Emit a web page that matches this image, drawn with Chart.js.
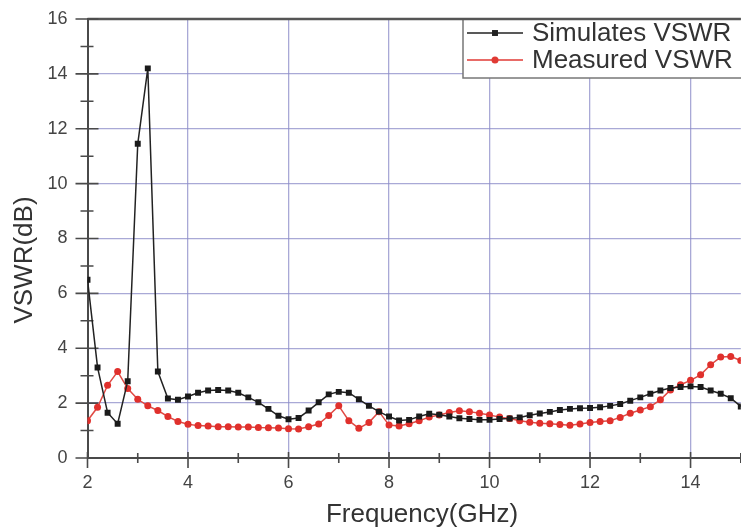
<!DOCTYPE html>
<html>
<head>
<meta charset="utf-8">
<script src="https://cdn.jsdelivr.net/npm/chart.js@4"></script>
<style>
  html, body { margin: 0; padding: 0; background: #fff; overflow: hidden; }
  #wrap { width: 745px; height: 531px; }
</style>
</head>
<body>
<div id="wrap"><canvas id="vswrChart"></canvas></div>
<script>
// frequency points (GHz), 0.2 GHz apart
const freqGHz = [
    2.0, 2.2, 2.4, 2.6, 2.8, 3.0, 3.2, 3.4, 3.6, 3.8,
    4.0, 4.2, 4.4, 4.6, 4.8, 5.0, 5.2, 5.4, 5.6, 5.8,
    6.0, 6.2, 6.4, 6.6, 6.8, 7.0, 7.2, 7.4, 7.6, 7.8,
    8.0, 8.2, 8.4, 8.6, 8.8, 9.0, 9.2, 9.4, 9.6, 9.8,
    10.0, 10.2, 10.4, 10.6, 10.8, 11.0, 11.2, 11.4, 11.6, 11.8,
    12.0, 12.2, 12.4, 12.6, 12.8, 13.0, 13.2, 13.4, 13.6, 13.8,
    14.0, 14.2, 14.4, 14.6, 14.8, 15.0
];
const simulatedVswr = [
    6.5, 3.3, 1.65, 1.25, 2.8, 11.45, 14.2, 3.15, 2.17, 2.12,
    2.24, 2.38, 2.46, 2.48, 2.46, 2.38, 2.21, 2.03, 1.79, 1.54,
    1.41, 1.46, 1.73, 2.03, 2.32, 2.41, 2.38, 2.14, 1.90, 1.69,
    1.51, 1.37, 1.39, 1.51, 1.61, 1.58, 1.51, 1.45, 1.42, 1.39,
    1.39, 1.42, 1.44, 1.48, 1.56, 1.62, 1.68, 1.75, 1.79, 1.81,
    1.82, 1.85, 1.90, 1.97, 2.09, 2.21, 2.34, 2.46, 2.55, 2.59,
    2.61, 2.59, 2.46, 2.34, 2.18, 1.88
];
const measuredVswr = [
    1.36, 1.85, 2.65, 3.15, 2.53, 2.14, 1.90, 1.73, 1.51, 1.33,
    1.23, 1.18, 1.17, 1.14, 1.14, 1.13, 1.13, 1.11, 1.10, 1.09,
    1.07, 1.06, 1.14, 1.24, 1.55, 1.90, 1.36, 1.08, 1.29, 1.69,
    1.20, 1.17, 1.25, 1.36, 1.49, 1.57, 1.66, 1.72, 1.69, 1.63,
    1.57, 1.49, 1.44, 1.36, 1.30, 1.27, 1.25, 1.22, 1.19, 1.24,
    1.29, 1.33, 1.36, 1.48, 1.63, 1.75, 1.87, 2.12, 2.48, 2.67,
    2.83, 3.03, 3.40, 3.68, 3.70, 3.55
];
const seriesNames = ['Simulates VSWR', 'Measured VSWR'];
const xTicks = [2, 4, 6, 8, 10, 12, 14];
const yTicks = [0, 2, 4, 6, 8, 10, 12, 14, 16];
const xTitle = 'Frequency(GHz)';
const yTitle = 'VSWR(dB)';

Chart.defaults.font.family = '"Liberation Sans", Arial, sans-serif';

const gridColor = 'rgba(140, 140, 200, 0.75)';
const axisColor = '#4a4a4a';

// frame, crossing tick marks, legend box and axis titles
const framePlugin = {
    id: 'frame',
    beforeDatasetsDraw(chart) {
        const { ctx, chartArea: a, scales: { x, y } } = chart;
        ctx.save();

        // legend box
        const lx = 463, ly = a.top, lh = 59;
        ctx.fillStyle = '#fff';
        ctx.fillRect(lx, ly, a.right - lx + 5, lh);
        ctx.strokeStyle = '#777';
        ctx.lineWidth = 1.5;
        ctx.strokeRect(lx, ly, a.right - lx + 5, lh);

        const rows = [
            { y: a.top + 14, color: '#222', style: 'rect', r: 4.2, name: seriesNames[0] },
            { y: a.top + 41, color: '#e03a34', style: 'circle', r: 3.5, name: seriesNames[1] }
        ];
        rows.forEach(row => {
            ctx.beginPath();
            ctx.strokeStyle = row.color;
            ctx.lineWidth = 1.5;
            ctx.moveTo(467, row.y);
            ctx.lineTo(523, row.y);
            ctx.stroke();
            ctx.fillStyle = row.color;
            Chart.helpers.drawPoint(ctx, { pointStyle: row.style, radius: row.r, borderWidth: 0 }, 495, row.y);
            ctx.fillStyle = '#333';
            ctx.font = '26px "Liberation Sans", Arial, sans-serif';
            ctx.textBaseline = 'middle';
            ctx.textAlign = 'left';
            ctx.fillText(row.name, 532, row.y + 1);
        });

        // top frame line
        ctx.beginPath();
        ctx.strokeStyle = '#555';
        ctx.lineWidth = 2.5;
        ctx.moveTo(a.left, a.top);
        ctx.lineTo(a.right, a.top);
        ctx.stroke();

        // tick marks crossing the axes (major + minor)
        ctx.beginPath();
        ctx.strokeStyle = axisColor;
        ctx.lineWidth = 1.6;
        for (let v = 2; v <= 15; v++) {
            const px = x.getPixelForValue(v);
            const major = v % 2 === 0;
            ctx.moveTo(px, a.bottom - (major ? 6 : 5));
            ctx.lineTo(px, a.bottom + (major ? 10 : 5));
        }
        for (let v = 0; v <= 16; v++) {
            const py = y.getPixelForValue(v);
            const major = v % 2 === 0;
            ctx.moveTo(a.left - (major ? 12 : 7), py);
            ctx.lineTo(a.left + (major ? 11 : 6), py);
        }
        ctx.stroke();

        // axis titles
        ctx.fillStyle = '#333';
        ctx.font = '26px "Liberation Sans", Arial, sans-serif';
        ctx.textAlign = 'center';
        ctx.textBaseline = 'middle';
        ctx.fillText(xTitle, 422, 515);
        ctx.translate(25, 260);
        ctx.rotate(-Math.PI / 2);
        ctx.fillText(yTitle, 0, 0);
        ctx.restore();
    }
};

const ctx = document.getElementById('vswrChart').getContext('2d');
new Chart(ctx, {
    type: 'line',
    data: {
        datasets: [{
            label: seriesNames[0],
            data: freqGHz.map((f, i) => ({ x: f, y: simulatedVswr[i] })),
            borderColor: '#222',
            backgroundColor: '#1a1a1a',
            borderWidth: 1.5,
            pointStyle: 'rect',
            pointRadius: 4.2,
            pointBorderWidth: 0,
            tension: 0
        }, {
            label: seriesNames[1],
            data: freqGHz.map((f, i) => ({ x: f, y: measuredVswr[i] })),
            borderColor: '#e04a44',
            backgroundColor: '#e0302c',
            borderWidth: 1.5,
            pointStyle: 'circle',
            pointRadius: 3.5,
            pointBorderWidth: 0,
            tension: 0
        }]
    },
    options: {
        responsive: true,
        maintainAspectRatio: false,
        animation: false,
        layout: { padding: { top: 19, right: 0, left: 0, bottom: 0 } },
        plugins: {
            legend: { display: false },
            tooltip: { enabled: false }
        },
        scales: {
            x: {
                type: 'linear',
                min: 2,
                max: 15,
                afterBuildTicks: s => { s.ticks = xTicks.map(v => ({ value: v })); },
                afterFit: s => { s.height = 73; s.paddingLeft = 0; s.paddingRight = 0; },
                ticks: {
                    color: '#444',
                    font: { size: 18 },
                    padding: 14,
                    maxRotation: 0
                },
                grid: {
                    drawTicks: false,
                    lineWidth: 1.3,
                    color: c => (c.tick && c.tick.value === 2) ? 'rgba(0,0,0,0)' : gridColor
                },
                border: { display: true, color: axisColor, width: 2 }
            },
            y: {
                min: 0,
                max: 16,
                afterBuildTicks: s => { s.ticks = yTicks.map(v => ({ value: v })); },
                afterFit: s => { s.width = 87.5; s.paddingTop = 0; s.paddingBottom = 0; },
                ticks: {
                    color: '#444',
                    font: { size: 18 },
                    padding: 20
                },
                grid: {
                    drawTicks: false,
                    lineWidth: 1.3,
                    color: c => (c.tick && (c.tick.value === 0 || c.tick.value === 16)) ? 'rgba(0,0,0,0)' : gridColor
                },
                border: { display: true, color: axisColor, width: 2 }
            }
        }
    },
    plugins: [framePlugin]
});
</script>
</body>
</html>
